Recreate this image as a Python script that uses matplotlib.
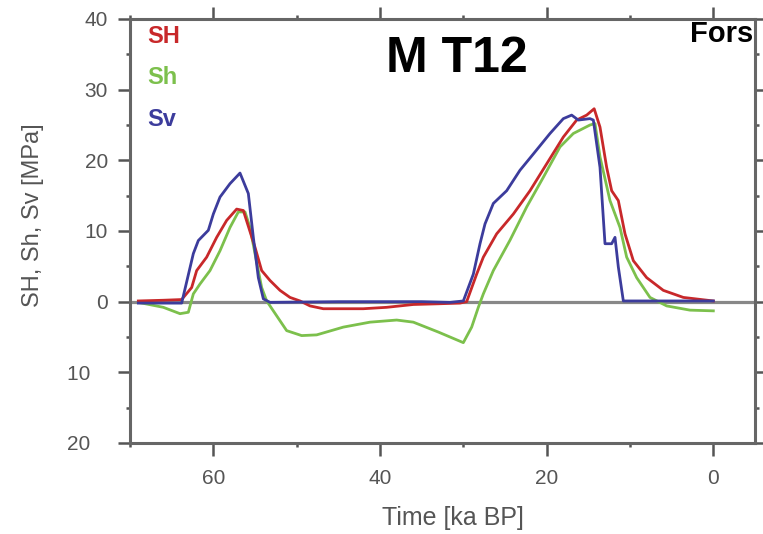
import matplotlib
matplotlib.use("Agg")
import matplotlib.pyplot as plt
from matplotlib.ticker import MultipleLocator, FuncFormatter

plt.rcParams['font.family'] = ['Liberation Sans', 'DejaVu Sans']

# ── Datos ─────────────────────────────────────────────────────────────────
sh_t = [69, 66, 63.8, 62.6, 62.0, 60.8, 59.6, 58.4, 57.2, 56.4, 55.0, 54.2,
        53.2, 52.0, 50.8, 49.6, 48.4, 46.8, 44.0, 42.0, 39.2, 36.0, 33.0,
        30.4, 29.6, 28.4, 27.6, 26.0, 24.0, 22.0, 20.0, 18.0, 16.4, 15.2,
        14.3, 13.6, 12.8, 12.2, 11.4, 10.6, 9.6, 8.0, 6.0, 3.6, 0.0]
sh_v = [0.1, 0.2, 0.3, 2.0, 4.4, 6.3, 9.1, 11.5, 13.1, 12.9, 7.7, 4.4,
        3.0, 1.6, 0.6, 0.1, -0.6, -1.0, -1.0, -1.0, -0.8, -0.4, -0.3,
        -0.2, 0.0, 3.9, 6.3, 9.6, 12.4, 15.7, 19.5, 23.3, 25.7, 26.4,
        27.3, 24.7, 19.0, 15.7, 14.3, 9.6, 5.8, 3.4, 1.6, 0.6, 0.1]

shmin_t = [69, 66, 64, 63.0, 62.4, 61.6, 60.4, 59.2, 58.0, 57.0, 56.2, 55.6,
           55.0, 54.2, 53.6, 52.8, 51.2, 49.4, 47.6, 44.4, 41.2, 38.0, 36.0,
           33.0, 30.0, 29.0, 28.2, 27.6, 26.4, 24.4, 22.4, 20.4, 18.4, 16.8,
           14.8, 14.2, 13.6, 12.4, 11.2, 10.4, 9.2, 7.6, 5.6, 2.8, 0.0]
shmin_v = [-0.1, -0.8, -1.7, -1.5, 1.1, 2.5, 4.4, 7.2, 10.5, 12.7, 12.7, 10.5,
           6.8, 2.0, 0.1, -1.3, -4.1, -4.8, -4.7, -3.6, -2.9, -2.6, -2.9,
           -4.3, -5.8, -3.6, -0.8, 1.1, 4.4, 8.7, 13.4, 17.6, 21.9, 23.8,
           25.0, 25.2, 20.5, 14.3, 10.5, 6.3, 3.4, 0.6, -0.6, -1.2, -1.3]

sv_t = [69, 66, 63.8, 62.4, 61.8, 60.6, 60.0, 59.2, 58.0, 56.8, 55.8, 55.2,
        54.6, 54.0, 53.2, 45, 40, 35, 31.6, 30.0, 28.8, 28.0, 27.4, 26.4,
        24.8, 23.2, 21.6, 19.6, 18.0, 17.0, 16.2, 14.8, 14.4, 13.6, 13.0,
        12.2, 11.8, 11.4, 10.8, 5, 0.0]
sv_v = [-0.2, -0.2, -0.2, 6.8, 8.65, 10.1, 12.4, 14.8, 16.7, 18.2, 15.3, 9.1,
        3.4, 0.4, -0.1, 0.0, 0.0, 0.0, -0.1, 0.1, 3.9, 8.2, 11.0, 13.9,
        15.7, 18.6, 20.9, 23.8, 25.9, 26.4, 25.7, 25.9, 25.7, 19.0, 8.2,
        8.2, 9.1, 4.9, 0.1, 0.1, 0.1]

C_SH = "#c8282a"
C_SHMIN = "#7cc04c"
C_SV = "#3c3c9c"
GRIS = "#555555"


def fmt_y(v, _pos):
    # los negativos se muestran sin signo pero desplazados (hueco del "-")
    if v < 0:
        return f"{abs(v):.0f}\u00a0\u00a0\u00a0"
    return f"{v:.0f}"


# ── Figura ────────────────────────────────────────────────────────────────
fig = plt.figure(figsize=(7.63, 5.34), dpi=100)
ax = fig.add_axes([130 / 763, 91 / 534, 625 / 763, 424 / 534])

ax.axhline(0, color="#888888", lw=2.3, zorder=1)
ax.plot(shmin_t, shmin_v, color=C_SHMIN, lw=2.0, zorder=2)
ax.plot(sh_t, sh_v, color=C_SH, lw=2.0, zorder=3)
ax.plot(sv_t, sv_v, color=C_SV, lw=2.0, zorder=4)

ax.set_xlim(70, -5)
ax.set_ylim(-20, 40)
ax.xaxis.set_major_locator(MultipleLocator(20))
ax.xaxis.set_minor_locator(MultipleLocator(10))
ax.yaxis.set_major_locator(MultipleLocator(10))
ax.yaxis.set_minor_locator(MultipleLocator(5))
ax.yaxis.set_major_formatter(FuncFormatter(fmt_y))

for s in ax.spines.values():
    s.set_color("#666666")
    s.set_linewidth(2.2)
ax.tick_params(which="both", direction="out", top=True, right=True,
               color=GRIS, labelcolor=GRIS, labelsize=15)
ax.tick_params(which="major", length=9, width=1.8, pad=7)
ax.tick_params(which="minor", length=3, width=1.8)
ax.tick_params(axis="x", which="major", pad=10)

ax.set_xlabel("Time [ka BP]", fontsize=18, color=GRIS)
ax.xaxis.set_label_coords(0.517, -0.148)
ax.set_ylabel("SH, Sh, Sv [MPa]", fontsize=17, color=GRIS)
ax.yaxis.set_label_coords(-0.137, 0.538)

ax.text(0.523, 0.905, "M T12", transform=ax.transAxes, ha="center",
        va="center", fontsize=36, fontweight="bold", color="black")
ax.text(0.997, 0.998, "Fors", transform=ax.transAxes, ha="right",
        va="top", fontsize=21, fontweight="bold", color="black")

ax.text(0.027, 0.986, "SH", transform=ax.transAxes, ha="left", va="top",
        fontsize=17, fontweight="bold", color=C_SH)
ax.text(0.027, 0.890, "Sh", transform=ax.transAxes, ha="left", va="top",
        fontsize=17, fontweight="bold", color=C_SHMIN)
ax.text(0.027, 0.789, "Sv", transform=ax.transAxes, ha="left", va="top",
        fontsize=17, fontweight="bold", color=C_SV)

fig.savefig("out.png", dpi=100)
